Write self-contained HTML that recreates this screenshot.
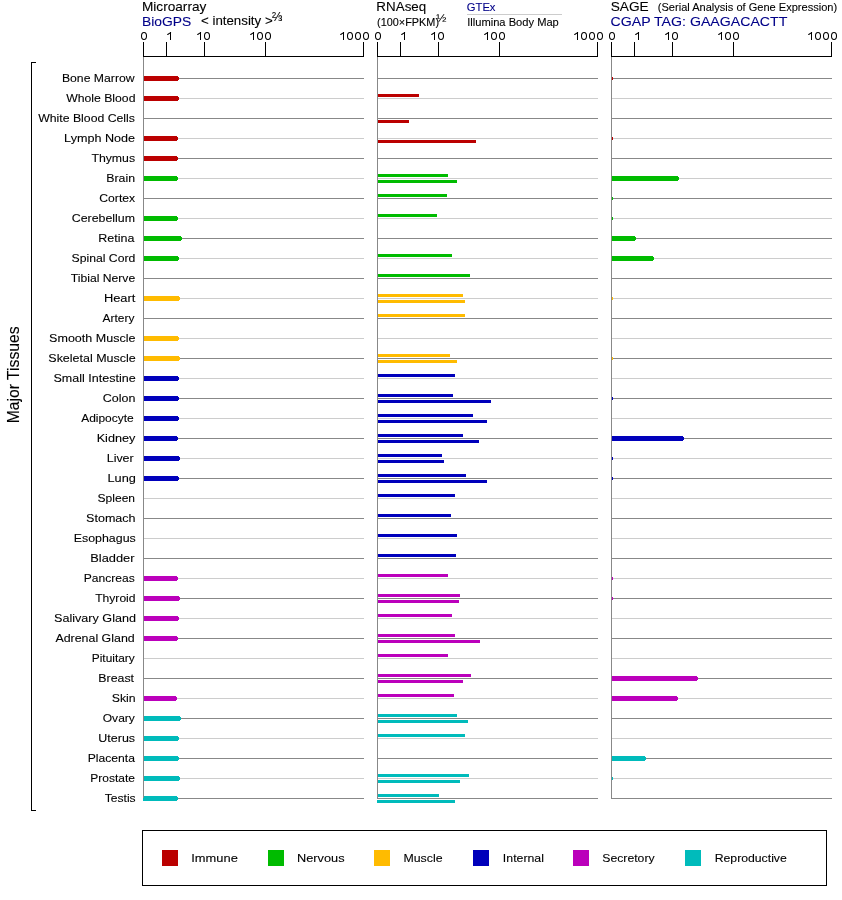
<!DOCTYPE html>
<html><head><meta charset="utf-8"><style>
html,body{margin:0;padding:0;background:#fff;}
svg{display:block;will-change:transform;}
text{font-family:"Liberation Sans",sans-serif;stroke:currentColor;stroke-width:0.1px;}
</style></head><body>
<svg width="842" height="900" viewBox="0 0 842 900">
<rect x="0" y="0" width="842" height="900" fill="#fff"/>
<g shape-rendering="crispEdges">
<rect x="143" y="56" width="221" height="1" fill="#000"/>
<rect x="143" y="42" width="1" height="14" fill="#000"/>
<rect x="166" y="42" width="1" height="14" fill="#000"/>
<rect x="204" y="42" width="1" height="14" fill="#000"/>
<rect x="265" y="42" width="1" height="14" fill="#000"/>
<rect x="363" y="42" width="1" height="14" fill="#000"/>
<rect x="377" y="56" width="221" height="1" fill="#000"/>
<rect x="377" y="42" width="1" height="14" fill="#000"/>
<rect x="400" y="42" width="1" height="14" fill="#000"/>
<rect x="438" y="42" width="1" height="14" fill="#000"/>
<rect x="499" y="42" width="1" height="14" fill="#000"/>
<rect x="597" y="42" width="1" height="14" fill="#000"/>
<rect x="611" y="56" width="221" height="1" fill="#000"/>
<rect x="611" y="42" width="1" height="14" fill="#000"/>
<rect x="634" y="42" width="1" height="14" fill="#000"/>
<rect x="672" y="42" width="1" height="14" fill="#000"/>
<rect x="733" y="42" width="1" height="14" fill="#000"/>
<rect x="831" y="42" width="1" height="14" fill="#000"/>
<rect x="143" y="78" width="221" height="1" fill="#888888"/>
<rect x="377" y="78" width="221" height="1" fill="#888888"/>
<rect x="611" y="78" width="221" height="1" fill="#888888"/>
<rect x="143" y="98" width="221" height="1" fill="#cccccc"/>
<rect x="377" y="98" width="221" height="1" fill="#cccccc"/>
<rect x="611" y="98" width="221" height="1" fill="#cccccc"/>
<rect x="143" y="118" width="221" height="1" fill="#888888"/>
<rect x="377" y="118" width="221" height="1" fill="#888888"/>
<rect x="611" y="118" width="221" height="1" fill="#888888"/>
<rect x="143" y="138" width="221" height="1" fill="#cccccc"/>
<rect x="377" y="138" width="221" height="1" fill="#cccccc"/>
<rect x="611" y="138" width="221" height="1" fill="#cccccc"/>
<rect x="143" y="158" width="221" height="1" fill="#888888"/>
<rect x="377" y="158" width="221" height="1" fill="#888888"/>
<rect x="611" y="158" width="221" height="1" fill="#888888"/>
<rect x="143" y="178" width="221" height="1" fill="#cccccc"/>
<rect x="377" y="178" width="221" height="1" fill="#cccccc"/>
<rect x="611" y="178" width="221" height="1" fill="#cccccc"/>
<rect x="143" y="198" width="221" height="1" fill="#888888"/>
<rect x="377" y="198" width="221" height="1" fill="#888888"/>
<rect x="611" y="198" width="221" height="1" fill="#888888"/>
<rect x="143" y="218" width="221" height="1" fill="#cccccc"/>
<rect x="377" y="218" width="221" height="1" fill="#cccccc"/>
<rect x="611" y="218" width="221" height="1" fill="#cccccc"/>
<rect x="143" y="238" width="221" height="1" fill="#888888"/>
<rect x="377" y="238" width="221" height="1" fill="#888888"/>
<rect x="611" y="238" width="221" height="1" fill="#888888"/>
<rect x="143" y="258" width="221" height="1" fill="#cccccc"/>
<rect x="377" y="258" width="221" height="1" fill="#cccccc"/>
<rect x="611" y="258" width="221" height="1" fill="#cccccc"/>
<rect x="143" y="278" width="221" height="1" fill="#888888"/>
<rect x="377" y="278" width="221" height="1" fill="#888888"/>
<rect x="611" y="278" width="221" height="1" fill="#888888"/>
<rect x="143" y="298" width="221" height="1" fill="#cccccc"/>
<rect x="377" y="298" width="221" height="1" fill="#cccccc"/>
<rect x="611" y="298" width="221" height="1" fill="#cccccc"/>
<rect x="143" y="318" width="221" height="1" fill="#888888"/>
<rect x="377" y="318" width="221" height="1" fill="#888888"/>
<rect x="611" y="318" width="221" height="1" fill="#888888"/>
<rect x="143" y="338" width="221" height="1" fill="#cccccc"/>
<rect x="377" y="338" width="221" height="1" fill="#cccccc"/>
<rect x="611" y="338" width="221" height="1" fill="#cccccc"/>
<rect x="143" y="358" width="221" height="1" fill="#888888"/>
<rect x="377" y="358" width="221" height="1" fill="#888888"/>
<rect x="611" y="358" width="221" height="1" fill="#888888"/>
<rect x="143" y="378" width="221" height="1" fill="#cccccc"/>
<rect x="377" y="378" width="221" height="1" fill="#cccccc"/>
<rect x="611" y="378" width="221" height="1" fill="#cccccc"/>
<rect x="143" y="398" width="221" height="1" fill="#888888"/>
<rect x="377" y="398" width="221" height="1" fill="#888888"/>
<rect x="611" y="398" width="221" height="1" fill="#888888"/>
<rect x="143" y="418" width="221" height="1" fill="#cccccc"/>
<rect x="377" y="418" width="221" height="1" fill="#cccccc"/>
<rect x="611" y="418" width="221" height="1" fill="#cccccc"/>
<rect x="143" y="438" width="221" height="1" fill="#888888"/>
<rect x="377" y="438" width="221" height="1" fill="#888888"/>
<rect x="611" y="438" width="221" height="1" fill="#888888"/>
<rect x="143" y="458" width="221" height="1" fill="#cccccc"/>
<rect x="377" y="458" width="221" height="1" fill="#cccccc"/>
<rect x="611" y="458" width="221" height="1" fill="#cccccc"/>
<rect x="143" y="478" width="221" height="1" fill="#888888"/>
<rect x="377" y="478" width="221" height="1" fill="#888888"/>
<rect x="611" y="478" width="221" height="1" fill="#888888"/>
<rect x="143" y="498" width="221" height="1" fill="#cccccc"/>
<rect x="377" y="498" width="221" height="1" fill="#cccccc"/>
<rect x="611" y="498" width="221" height="1" fill="#cccccc"/>
<rect x="143" y="518" width="221" height="1" fill="#888888"/>
<rect x="377" y="518" width="221" height="1" fill="#888888"/>
<rect x="611" y="518" width="221" height="1" fill="#888888"/>
<rect x="143" y="538" width="221" height="1" fill="#cccccc"/>
<rect x="377" y="538" width="221" height="1" fill="#cccccc"/>
<rect x="611" y="538" width="221" height="1" fill="#cccccc"/>
<rect x="143" y="558" width="221" height="1" fill="#888888"/>
<rect x="377" y="558" width="221" height="1" fill="#888888"/>
<rect x="611" y="558" width="221" height="1" fill="#888888"/>
<rect x="143" y="578" width="221" height="1" fill="#cccccc"/>
<rect x="377" y="578" width="221" height="1" fill="#cccccc"/>
<rect x="611" y="578" width="221" height="1" fill="#cccccc"/>
<rect x="143" y="598" width="221" height="1" fill="#888888"/>
<rect x="377" y="598" width="221" height="1" fill="#888888"/>
<rect x="611" y="598" width="221" height="1" fill="#888888"/>
<rect x="143" y="618" width="221" height="1" fill="#cccccc"/>
<rect x="377" y="618" width="221" height="1" fill="#cccccc"/>
<rect x="611" y="618" width="221" height="1" fill="#cccccc"/>
<rect x="143" y="638" width="221" height="1" fill="#888888"/>
<rect x="377" y="638" width="221" height="1" fill="#888888"/>
<rect x="611" y="638" width="221" height="1" fill="#888888"/>
<rect x="143" y="658" width="221" height="1" fill="#cccccc"/>
<rect x="377" y="658" width="221" height="1" fill="#cccccc"/>
<rect x="611" y="658" width="221" height="1" fill="#cccccc"/>
<rect x="143" y="678" width="221" height="1" fill="#888888"/>
<rect x="377" y="678" width="221" height="1" fill="#888888"/>
<rect x="611" y="678" width="221" height="1" fill="#888888"/>
<rect x="143" y="698" width="221" height="1" fill="#cccccc"/>
<rect x="377" y="698" width="221" height="1" fill="#cccccc"/>
<rect x="611" y="698" width="221" height="1" fill="#cccccc"/>
<rect x="143" y="718" width="221" height="1" fill="#888888"/>
<rect x="377" y="718" width="221" height="1" fill="#888888"/>
<rect x="611" y="718" width="221" height="1" fill="#888888"/>
<rect x="143" y="738" width="221" height="1" fill="#cccccc"/>
<rect x="377" y="738" width="221" height="1" fill="#cccccc"/>
<rect x="611" y="738" width="221" height="1" fill="#cccccc"/>
<rect x="143" y="758" width="221" height="1" fill="#888888"/>
<rect x="377" y="758" width="221" height="1" fill="#888888"/>
<rect x="611" y="758" width="221" height="1" fill="#888888"/>
<rect x="143" y="778" width="221" height="1" fill="#cccccc"/>
<rect x="377" y="778" width="221" height="1" fill="#cccccc"/>
<rect x="611" y="778" width="221" height="1" fill="#cccccc"/>
<rect x="143" y="798" width="221" height="1" fill="#888888"/>
<rect x="377" y="798" width="221" height="1" fill="#888888"/>
<rect x="611" y="798" width="221" height="1" fill="#888888"/>
<rect x="143" y="76" width="35" height="5" fill="#bb0000"/>
<rect x="178" y="77" width="1" height="3" fill="#bb0000"/>
<rect x="611" y="76" width="1" height="5" fill="#bb0000"/>
<rect x="612" y="77" width="1" height="3" fill="#bb0000"/>
<rect x="143" y="96" width="35" height="5" fill="#bb0000"/>
<rect x="178" y="97" width="1" height="3" fill="#bb0000"/>
<rect x="377" y="94" width="42" height="3" fill="#bb0000"/>
<rect x="377" y="120" width="32" height="3" fill="#bb0000"/>
<rect x="143" y="136" width="34" height="5" fill="#bb0000"/>
<rect x="177" y="137" width="1" height="3" fill="#bb0000"/>
<rect x="377" y="140" width="99" height="3" fill="#bb0000"/>
<rect x="611" y="136" width="1" height="5" fill="#bb0000"/>
<rect x="612" y="137" width="1" height="3" fill="#bb0000"/>
<rect x="143" y="156" width="34" height="5" fill="#bb0000"/>
<rect x="177" y="157" width="1" height="3" fill="#bb0000"/>
<rect x="143" y="176" width="34" height="5" fill="#00bb00"/>
<rect x="177" y="177" width="1" height="3" fill="#00bb00"/>
<rect x="377" y="174" width="71" height="3" fill="#00bb00"/>
<rect x="377" y="180" width="80" height="3" fill="#00bb00"/>
<rect x="611" y="176" width="67" height="5" fill="#00bb00"/>
<rect x="678" y="177" width="1" height="3" fill="#00bb00"/>
<rect x="377" y="194" width="70" height="3" fill="#00bb00"/>
<rect x="611" y="196" width="1" height="5" fill="#00bb00"/>
<rect x="612" y="197" width="1" height="3" fill="#00bb00"/>
<rect x="143" y="216" width="34" height="5" fill="#00bb00"/>
<rect x="177" y="217" width="1" height="3" fill="#00bb00"/>
<rect x="377" y="214" width="60" height="3" fill="#00bb00"/>
<rect x="611" y="216" width="1" height="5" fill="#00bb00"/>
<rect x="612" y="217" width="1" height="3" fill="#00bb00"/>
<rect x="143" y="236" width="38" height="5" fill="#00bb00"/>
<rect x="181" y="237" width="1" height="3" fill="#00bb00"/>
<rect x="611" y="236" width="24" height="5" fill="#00bb00"/>
<rect x="635" y="237" width="1" height="3" fill="#00bb00"/>
<rect x="143" y="256" width="35" height="5" fill="#00bb00"/>
<rect x="178" y="257" width="1" height="3" fill="#00bb00"/>
<rect x="377" y="254" width="75" height="3" fill="#00bb00"/>
<rect x="611" y="256" width="42" height="5" fill="#00bb00"/>
<rect x="653" y="257" width="1" height="3" fill="#00bb00"/>
<rect x="377" y="274" width="93" height="3" fill="#00bb00"/>
<rect x="143" y="296" width="36" height="5" fill="#ffbb00"/>
<rect x="179" y="297" width="1" height="3" fill="#ffbb00"/>
<rect x="377" y="294" width="86" height="3" fill="#ffbb00"/>
<rect x="377" y="300" width="88" height="3" fill="#ffbb00"/>
<rect x="611" y="296" width="1" height="5" fill="#ffbb00"/>
<rect x="612" y="297" width="1" height="3" fill="#ffbb00"/>
<rect x="377" y="314" width="88" height="3" fill="#ffbb00"/>
<rect x="143" y="336" width="35" height="5" fill="#ffbb00"/>
<rect x="178" y="337" width="1" height="3" fill="#ffbb00"/>
<rect x="143" y="356" width="36" height="5" fill="#ffbb00"/>
<rect x="179" y="357" width="1" height="3" fill="#ffbb00"/>
<rect x="377" y="354" width="73" height="3" fill="#ffbb00"/>
<rect x="377" y="360" width="80" height="3" fill="#ffbb00"/>
<rect x="611" y="356" width="1" height="5" fill="#ffbb00"/>
<rect x="612" y="357" width="1" height="3" fill="#ffbb00"/>
<rect x="143" y="376" width="35" height="5" fill="#0000bb"/>
<rect x="178" y="377" width="1" height="3" fill="#0000bb"/>
<rect x="377" y="374" width="78" height="3" fill="#0000bb"/>
<rect x="143" y="396" width="35" height="5" fill="#0000bb"/>
<rect x="178" y="397" width="1" height="3" fill="#0000bb"/>
<rect x="377" y="394" width="76" height="3" fill="#0000bb"/>
<rect x="377" y="400" width="114" height="3" fill="#0000bb"/>
<rect x="611" y="396" width="1" height="5" fill="#0000bb"/>
<rect x="612" y="397" width="1" height="3" fill="#0000bb"/>
<rect x="143" y="416" width="35" height="5" fill="#0000bb"/>
<rect x="178" y="417" width="1" height="3" fill="#0000bb"/>
<rect x="377" y="414" width="96" height="3" fill="#0000bb"/>
<rect x="377" y="420" width="110" height="3" fill="#0000bb"/>
<rect x="143" y="436" width="34" height="5" fill="#0000bb"/>
<rect x="177" y="437" width="1" height="3" fill="#0000bb"/>
<rect x="377" y="434" width="86" height="3" fill="#0000bb"/>
<rect x="377" y="440" width="102" height="3" fill="#0000bb"/>
<rect x="611" y="436" width="72" height="5" fill="#0000bb"/>
<rect x="683" y="437" width="1" height="3" fill="#0000bb"/>
<rect x="143" y="456" width="36" height="5" fill="#0000bb"/>
<rect x="179" y="457" width="1" height="3" fill="#0000bb"/>
<rect x="377" y="454" width="65" height="3" fill="#0000bb"/>
<rect x="377" y="460" width="67" height="3" fill="#0000bb"/>
<rect x="611" y="456" width="1" height="5" fill="#0000bb"/>
<rect x="612" y="457" width="1" height="3" fill="#0000bb"/>
<rect x="143" y="476" width="35" height="5" fill="#0000bb"/>
<rect x="178" y="477" width="1" height="3" fill="#0000bb"/>
<rect x="377" y="474" width="89" height="3" fill="#0000bb"/>
<rect x="377" y="480" width="110" height="3" fill="#0000bb"/>
<rect x="611" y="476" width="1" height="5" fill="#0000bb"/>
<rect x="612" y="477" width="1" height="3" fill="#0000bb"/>
<rect x="377" y="494" width="78" height="3" fill="#0000bb"/>
<rect x="377" y="514" width="74" height="3" fill="#0000bb"/>
<rect x="377" y="534" width="80" height="3" fill="#0000bb"/>
<rect x="377" y="554" width="79" height="3" fill="#0000bb"/>
<rect x="143" y="576" width="34" height="5" fill="#bb00bb"/>
<rect x="177" y="577" width="1" height="3" fill="#bb00bb"/>
<rect x="377" y="574" width="71" height="3" fill="#bb00bb"/>
<rect x="611" y="576" width="1" height="5" fill="#bb00bb"/>
<rect x="612" y="577" width="1" height="3" fill="#bb00bb"/>
<rect x="143" y="596" width="36" height="5" fill="#bb00bb"/>
<rect x="179" y="597" width="1" height="3" fill="#bb00bb"/>
<rect x="377" y="594" width="83" height="3" fill="#bb00bb"/>
<rect x="377" y="600" width="82" height="3" fill="#bb00bb"/>
<rect x="611" y="596" width="1" height="5" fill="#bb00bb"/>
<rect x="612" y="597" width="1" height="3" fill="#bb00bb"/>
<rect x="143" y="616" width="35" height="5" fill="#bb00bb"/>
<rect x="178" y="617" width="1" height="3" fill="#bb00bb"/>
<rect x="377" y="614" width="75" height="3" fill="#bb00bb"/>
<rect x="143" y="636" width="34" height="5" fill="#bb00bb"/>
<rect x="177" y="637" width="1" height="3" fill="#bb00bb"/>
<rect x="377" y="634" width="78" height="3" fill="#bb00bb"/>
<rect x="377" y="640" width="103" height="3" fill="#bb00bb"/>
<rect x="377" y="654" width="71" height="3" fill="#bb00bb"/>
<rect x="377" y="674" width="94" height="3" fill="#bb00bb"/>
<rect x="377" y="680" width="86" height="3" fill="#bb00bb"/>
<rect x="611" y="676" width="86" height="5" fill="#bb00bb"/>
<rect x="697" y="677" width="1" height="3" fill="#bb00bb"/>
<rect x="143" y="696" width="33" height="5" fill="#bb00bb"/>
<rect x="176" y="697" width="1" height="3" fill="#bb00bb"/>
<rect x="377" y="694" width="77" height="3" fill="#bb00bb"/>
<rect x="611" y="696" width="66" height="5" fill="#bb00bb"/>
<rect x="677" y="697" width="1" height="3" fill="#bb00bb"/>
<rect x="143" y="716" width="37" height="5" fill="#00bbbb"/>
<rect x="180" y="717" width="1" height="3" fill="#00bbbb"/>
<rect x="377" y="714" width="80" height="3" fill="#00bbbb"/>
<rect x="377" y="720" width="91" height="3" fill="#00bbbb"/>
<rect x="143" y="736" width="35" height="5" fill="#00bbbb"/>
<rect x="178" y="737" width="1" height="3" fill="#00bbbb"/>
<rect x="377" y="734" width="88" height="3" fill="#00bbbb"/>
<rect x="143" y="756" width="35" height="5" fill="#00bbbb"/>
<rect x="178" y="757" width="1" height="3" fill="#00bbbb"/>
<rect x="611" y="756" width="34" height="5" fill="#00bbbb"/>
<rect x="645" y="757" width="1" height="3" fill="#00bbbb"/>
<rect x="143" y="776" width="36" height="5" fill="#00bbbb"/>
<rect x="179" y="777" width="1" height="3" fill="#00bbbb"/>
<rect x="377" y="774" width="92" height="3" fill="#00bbbb"/>
<rect x="377" y="780" width="83" height="3" fill="#00bbbb"/>
<rect x="611" y="776" width="1" height="5" fill="#00bbbb"/>
<rect x="612" y="777" width="1" height="3" fill="#00bbbb"/>
<rect x="143" y="796" width="34" height="5" fill="#00bbbb"/>
<rect x="177" y="797" width="1" height="3" fill="#00bbbb"/>
<rect x="377" y="794" width="62" height="3" fill="#00bbbb"/>
<rect x="377" y="800" width="78" height="3" fill="#00bbbb"/>
<rect x="143" y="57" width="1" height="741" fill="#888888"/>
<rect x="377" y="57" width="1" height="741" fill="#888888"/>
<rect x="611" y="57" width="1" height="741" fill="#888888"/>
<rect x="31" y="62" width="1" height="749" fill="#000"/>
<rect x="31" y="62" width="5" height="1" fill="#000"/>
<rect x="31" y="810" width="5" height="1" fill="#000"/>
<rect x="142.5" y="830.5" width="684" height="55" fill="none" stroke="#000" stroke-width="1"/>
<rect x="162" y="850" width="16" height="16" fill="#bb0000"/>
<rect x="268" y="850" width="16" height="16" fill="#00bb00"/>
<rect x="374" y="850" width="16" height="16" fill="#ffbb00"/>
<rect x="473" y="850" width="16" height="16" fill="#0000bb"/>
<rect x="573" y="850" width="16" height="16" fill="#bb00bb"/>
<rect x="685" y="850" width="16" height="16" fill="#00bbbb"/>
<rect x="467" y="14" width="95" height="1" fill="#cccccc"/>
</g>
<g>
<text transform="translate(141.95 11) scale(1.05 1)" font-size="13" fill="#000" color="#000">Microarray</text>
<text transform="translate(141.9 26) scale(1.0678 1)" font-size="13" fill="#000088" color="#000088">BioGPS</text>
<text transform="translate(200.97 25) scale(1.0238 1)" font-size="13" fill="#000" color="#000">&lt; intensity &gt;</text>
<text transform="translate(272.0 21) scale(0.984 1)" font-size="12.5" fill="#000" color="#000">&#8532;</text>
<text transform="translate(376.37 11) scale(1.0303 1)" font-size="13" fill="#000" color="#000">RNAseq</text>
<text transform="translate(377.11 26) scale(1.0873 1)" font-size="10" fill="#000" color="#000">(100&#215;FPKM)</text>
<text transform="translate(436.33 22) scale(1.0582 1)" font-size="11.5" fill="#000" color="#000">&#189;</text>
<text transform="translate(466.78 11) scale(1.0227 1)" font-size="11" fill="#000088" color="#000088">GTEx</text>
<text transform="translate(467.18 26) scale(1.0136 1)" font-size="11" fill="#000" color="#000">Illumina Body Map</text>
<text transform="translate(610.75 11) scale(1.0517 1)" font-size="13" fill="#000" color="#000">SAGE</text>
<text transform="translate(657.79 11) scale(1.0068 1)" font-size="11" fill="#000" color="#000">(Serial Analysis of Gene Expression)</text>
<text transform="translate(610.51 26) scale(1.0894 1)" font-size="13" fill="#000088" color="#000088">CGAP TAG: GAAGACACTT</text>
<text transform="translate(191.22 862) scale(1.1738 1)" font-size="11" fill="#000" color="#000">Immune</text>
<text transform="translate(297.03 862) scale(1.1605 1)" font-size="11" fill="#000" color="#000">Nervous</text>
<text transform="translate(403.45 862) scale(1.1228 1)" font-size="11" fill="#000" color="#000">Muscle</text>
<text transform="translate(502.86 862) scale(1.1208 1)" font-size="11" fill="#000" color="#000">Internal</text>
<text transform="translate(602.27 862) scale(1.1132 1)" font-size="11" fill="#000" color="#000">Secretory</text>
<text transform="translate(714.68 862) scale(1.1146 1)" font-size="11" fill="#000" color="#000">Reproductive</text>
<text transform="translate(61.93 82) scale(1.0626 1)" font-size="11.5" fill="#000" color="#000">Bone Marrow</text>
<text transform="translate(66.2 102) scale(1.0625 1)" font-size="11.5" fill="#000" color="#000">Whole Blood</text>
<text transform="translate(38.2 122) scale(1.0668 1)" font-size="11.5" fill="#000" color="#000">White Blood Cells</text>
<text transform="translate(64.1 142) scale(1.0954 1)" font-size="11.5" fill="#000" color="#000">Lymph Node</text>
<text transform="translate(91.39 162) scale(1.069 1)" font-size="11.5" fill="#000" color="#000">Thymus</text>
<text transform="translate(106.3 182) scale(1.0726 1)" font-size="11.5" fill="#000" color="#000">Brain</text>
<text transform="translate(99.31 202) scale(1.0577 1)" font-size="11.5" fill="#000" color="#000">Cortex</text>
<text transform="translate(71.72 222) scale(1.0773 1)" font-size="11.5" fill="#000" color="#000">Cerebellum</text>
<text transform="translate(98.3 242) scale(1.0878 1)" font-size="11.5" fill="#000" color="#000">Retina</text>
<text transform="translate(71.53 262) scale(1.0624 1)" font-size="11.5" fill="#000" color="#000">Spinal Cord</text>
<text transform="translate(70.8 282) scale(1.0569 1)" font-size="11.5" fill="#000" color="#000">Tibial Nerve</text>
<text transform="translate(103.88 302) scale(1.1198 1)" font-size="11.5" fill="#000" color="#000">Heart</text>
<text transform="translate(102.58 322) scale(1.0392 1)" font-size="11.5" fill="#000" color="#000">Artery</text>
<text transform="translate(49.11 342) scale(1.0897 1)" font-size="11.5" fill="#000" color="#000">Smooth Muscle</text>
<text transform="translate(48.3 362) scale(1.0863 1)" font-size="11.5" fill="#000" color="#000">Skeletal Muscle</text>
<text transform="translate(53.51 382) scale(1.0895 1)" font-size="11.5" fill="#000" color="#000">Small Intestine</text>
<text transform="translate(102.7 402) scale(1.0865 1)" font-size="11.5" fill="#000" color="#000">Colon</text>
<text transform="translate(81.2 422) scale(1.04 1)" font-size="11.5" fill="#000" color="#000">Adipocyte</text>
<text transform="translate(96.69 442) scale(1.1009 1)" font-size="11.5" fill="#000" color="#000">Kidney</text>
<text transform="translate(106.72 462) scale(1.0833 1)" font-size="11.5" fill="#000" color="#000">Liver</text>
<text transform="translate(107.47 482) scale(1.1106 1)" font-size="11.5" fill="#000" color="#000">Lung</text>
<text transform="translate(97.54 502) scale(1.0476 1)" font-size="11.5" fill="#000" color="#000">Spleen</text>
<text transform="translate(86.11 522) scale(1.0911 1)" font-size="11.5" fill="#000" color="#000">Stomach</text>
<text transform="translate(73.72 542) scale(1.0788 1)" font-size="11.5" fill="#000" color="#000">Esophagus</text>
<text transform="translate(90.27 562) scale(1.1165 1)" font-size="11.5" fill="#000" color="#000">Bladder</text>
<text transform="translate(83.74 582) scale(1.0514 1)" font-size="11.5" fill="#000" color="#000">Pancreas</text>
<text transform="translate(95.18 602) scale(1.0537 1)" font-size="11.5" fill="#000" color="#000">Thyroid</text>
<text transform="translate(54.09 622) scale(1.0961 1)" font-size="11.5" fill="#000" color="#000">Salivary Gland</text>
<text transform="translate(55.4 642) scale(1.0795 1)" font-size="11.5" fill="#000" color="#000">Adrenal Gland</text>
<text transform="translate(91.76 662) scale(1.0354 1)" font-size="11.5" fill="#000" color="#000">Pituitary</text>
<text transform="translate(98.31 682) scale(1.076 1)" font-size="11.5" fill="#000" color="#000">Breast</text>
<text transform="translate(111.74 702) scale(1.0668 1)" font-size="11.5" fill="#000" color="#000">Skin</text>
<text transform="translate(102.76 722) scale(1.0468 1)" font-size="11.5" fill="#000" color="#000">Ovary</text>
<text transform="translate(98.29 742) scale(1.0879 1)" font-size="11.5" fill="#000" color="#000">Uterus</text>
<text transform="translate(87.74 762) scale(1.0561 1)" font-size="11.5" fill="#000" color="#000">Placenta</text>
<text transform="translate(90.35 782) scale(1.0441 1)" font-size="11.5" fill="#000" color="#000">Prostate</text>
<text transform="translate(104.8 802) scale(1.0484 1)" font-size="11.5" fill="#000" color="#000">Testis</text>
<ellipse cx="144" cy="36" rx="2.5" ry="3.5" fill="none" stroke="#000" stroke-width="1.05"/>
<ellipse cx="207" cy="36" rx="2.5" ry="3.5" fill="none" stroke="#000" stroke-width="1.05"/>
<ellipse cx="260" cy="36" rx="2.5" ry="3.5" fill="none" stroke="#000" stroke-width="1.05"/>
<ellipse cx="268" cy="36" rx="2.5" ry="3.5" fill="none" stroke="#000" stroke-width="1.05"/>
<ellipse cx="350" cy="36" rx="2.5" ry="3.5" fill="none" stroke="#000" stroke-width="1.05"/>
<ellipse cx="358" cy="36" rx="2.5" ry="3.5" fill="none" stroke="#000" stroke-width="1.05"/>
<ellipse cx="366" cy="36" rx="2.5" ry="3.5" fill="none" stroke="#000" stroke-width="1.05"/>
<rect x="170" y="32" width="1" height="8" fill="#000" shape-rendering="crispEdges"/>
<path d="M170.6 32.6 L167.7 34.5" stroke="#000" stroke-width="1.1" stroke-linecap="round" fill="none"/>
<rect x="200" y="32" width="1" height="8" fill="#000" shape-rendering="crispEdges"/>
<path d="M200.6 32.6 L197.7 34.5" stroke="#000" stroke-width="1.1" stroke-linecap="round" fill="none"/>
<rect x="253" y="32" width="1" height="8" fill="#000" shape-rendering="crispEdges"/>
<path d="M253.6 32.6 L250.7 34.5" stroke="#000" stroke-width="1.1" stroke-linecap="round" fill="none"/>
<rect x="343" y="32" width="1" height="8" fill="#000" shape-rendering="crispEdges"/>
<path d="M343.6 32.6 L340.7 34.5" stroke="#000" stroke-width="1.1" stroke-linecap="round" fill="none"/>
<ellipse cx="378" cy="36" rx="2.5" ry="3.5" fill="none" stroke="#000" stroke-width="1.05"/>
<ellipse cx="441" cy="36" rx="2.5" ry="3.5" fill="none" stroke="#000" stroke-width="1.05"/>
<ellipse cx="494" cy="36" rx="2.5" ry="3.5" fill="none" stroke="#000" stroke-width="1.05"/>
<ellipse cx="502" cy="36" rx="2.5" ry="3.5" fill="none" stroke="#000" stroke-width="1.05"/>
<ellipse cx="584" cy="36" rx="2.5" ry="3.5" fill="none" stroke="#000" stroke-width="1.05"/>
<ellipse cx="592" cy="36" rx="2.5" ry="3.5" fill="none" stroke="#000" stroke-width="1.05"/>
<ellipse cx="600" cy="36" rx="2.5" ry="3.5" fill="none" stroke="#000" stroke-width="1.05"/>
<rect x="404" y="32" width="1" height="8" fill="#000" shape-rendering="crispEdges"/>
<path d="M404.6 32.6 L401.7 34.5" stroke="#000" stroke-width="1.1" stroke-linecap="round" fill="none"/>
<rect x="434" y="32" width="1" height="8" fill="#000" shape-rendering="crispEdges"/>
<path d="M434.6 32.6 L431.7 34.5" stroke="#000" stroke-width="1.1" stroke-linecap="round" fill="none"/>
<rect x="487" y="32" width="1" height="8" fill="#000" shape-rendering="crispEdges"/>
<path d="M487.6 32.6 L484.7 34.5" stroke="#000" stroke-width="1.1" stroke-linecap="round" fill="none"/>
<rect x="577" y="32" width="1" height="8" fill="#000" shape-rendering="crispEdges"/>
<path d="M577.6 32.6 L574.7 34.5" stroke="#000" stroke-width="1.1" stroke-linecap="round" fill="none"/>
<ellipse cx="612" cy="36" rx="2.5" ry="3.5" fill="none" stroke="#000" stroke-width="1.05"/>
<ellipse cx="675" cy="36" rx="2.5" ry="3.5" fill="none" stroke="#000" stroke-width="1.05"/>
<ellipse cx="728" cy="36" rx="2.5" ry="3.5" fill="none" stroke="#000" stroke-width="1.05"/>
<ellipse cx="736" cy="36" rx="2.5" ry="3.5" fill="none" stroke="#000" stroke-width="1.05"/>
<ellipse cx="818" cy="36" rx="2.5" ry="3.5" fill="none" stroke="#000" stroke-width="1.05"/>
<ellipse cx="826" cy="36" rx="2.5" ry="3.5" fill="none" stroke="#000" stroke-width="1.05"/>
<ellipse cx="834" cy="36" rx="2.5" ry="3.5" fill="none" stroke="#000" stroke-width="1.05"/>
<rect x="638" y="32" width="1" height="8" fill="#000" shape-rendering="crispEdges"/>
<path d="M638.6 32.6 L635.7 34.5" stroke="#000" stroke-width="1.1" stroke-linecap="round" fill="none"/>
<rect x="668" y="32" width="1" height="8" fill="#000" shape-rendering="crispEdges"/>
<path d="M668.6 32.6 L665.7 34.5" stroke="#000" stroke-width="1.1" stroke-linecap="round" fill="none"/>
<rect x="721" y="32" width="1" height="8" fill="#000" shape-rendering="crispEdges"/>
<path d="M721.6 32.6 L718.7 34.5" stroke="#000" stroke-width="1.1" stroke-linecap="round" fill="none"/>
<rect x="811" y="32" width="1" height="8" fill="#000" shape-rendering="crispEdges"/>
<path d="M811.6 32.6 L808.7 34.5" stroke="#000" stroke-width="1.1" stroke-linecap="round" fill="none"/>
<text transform="translate(18.8 423.3) rotate(-90) scale(0.983 1)" font-size="16">Major Tissues</text>
</g>
</svg>
</body></html>
